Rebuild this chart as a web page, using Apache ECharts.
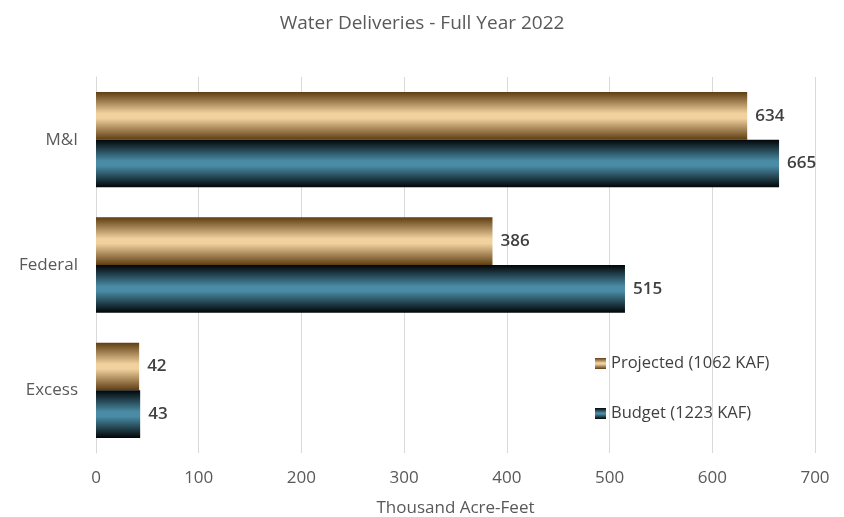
<!DOCTYPE html>
<html><head><meta charset="utf-8">
<script src="https://cdn.jsdelivr.net/npm/echarts@6/dist/echarts.min.js"></script>
<style>html,body{margin:0;padding:0;background:#fff}#c{width:844px;height:517px}</style>
</head><body><div id="c"></div>
<script>
const categories = ['M&I', 'Federal', 'Excess'];
const projected = [634, 386, 42];
const budget = [665, 515, 43];
const seriesNames = ['Projected (1062 KAF)', 'Budget (1223 KAF)'];
const xTicks = [0, 100, 200, 300, 400, 500, 600, 700];

const font = '"Open Sans", "Noto Sans", sans-serif';
function grad(edge, mid) {
  return new echarts.graphic.LinearGradient(0, 0, 0, 1, [
    {offset: 0, color: edge}, {offset: 0.45, color: mid}, {offset: 0.55, color: mid}, {offset: 1, color: edge}
  ]);
}
const chart = echarts.init(document.getElementById('c'));
const labelCfg = {show: true, position: 'right', distance: 8, color: '#404040', fontSize: 17, fontWeight: 600, fontFamily: font};
chart.setOption({
  animation: false,
  title: {text: 'Water Deliveries - Full Year 2022', left: 'center', top: 9,
    textStyle: {color: '#595959', fontSize: 19, fontWeight: 'normal', fontFamily: font}},
  legend: {orient: 'vertical', left: 590, top: 350, itemGap: 33, itemWidth: 11, itemHeight: 11,
    icon: 'rect', textStyle: {color: '#404040', fontSize: 16.5, fontFamily: font}, data: seriesNames},
  grid: {left: 96, right: 29, top: 77, bottom: 64, containLabel: false, outerBoundsMode: 'none'},
  xAxis: {type: 'value', min: 0, max: 700, interval: 100,
    axisLabel: {color: '#595959', fontSize: 17, fontFamily: font, margin: 17,
      formatter: v => xTicks.includes(v) ? String(v) : ''},
    splitLine: {lineStyle: {color: '#d9d9d9', width: 1}},
    name: 'Thousand Acre-Feet', nameLocation: 'middle', nameGap: 47,
    nameTextStyle: {color: '#595959', fontSize: 17, fontFamily: font}},
  yAxis: {type: 'category', inverse: true, data: categories,
    axisLine: {show: true, lineStyle: {color: '#d9d9d9'}}, axisTick: {show: false},
    axisLabel: {color: '#595959', fontSize: 17, fontFamily: font, margin: 18}},
  series: [
    {name: seriesNames[0], type: 'bar', data: projected, barGap: '0%', barCategoryGap: '24%',
      itemStyle: {color: grad('#5e3d12', '#f1d29f')}, label: labelCfg},
    {name: seriesNames[1], type: 'bar', data: budget,
      itemStyle: {color: grad('#020507', '#4a8ca5')}, label: labelCfg}
  ]
});
</script></body></html>
